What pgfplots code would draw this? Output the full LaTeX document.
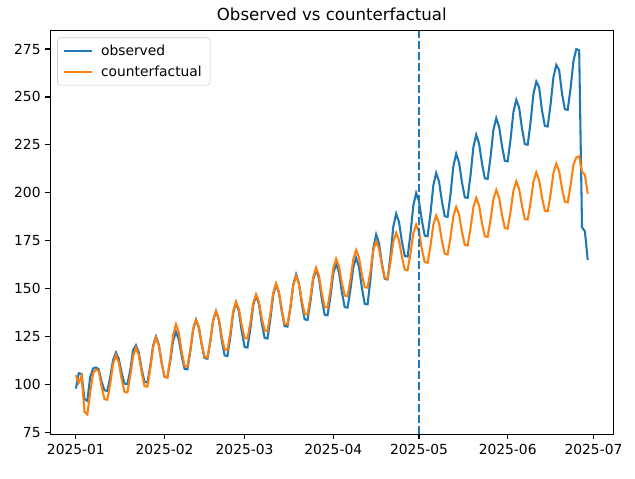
\documentclass[border=0pt]{standalone}
\usepackage{fontspec}
\setmainfont{DejaVu Sans}
\usepackage{pgfplots}
\usepackage{pgfplotstable}
\pgfplotsset{compat=1.18}
\definecolor{tabblue}{HTML}{1F77B4}
\definecolor{taborange}{HTML}{FF7F0E}
\definecolor{legframe}{HTML}{CCCCCC}

% day index from 2025-01-01, observed, counterfactual
\pgfplotstableread{
d obs cf
0 98 105
1 106 101
2 105.5 104.5
3 92.5 86
4 91.6 84.5
5 104 96
6 108.5 106
7 109 108
8 108 107
9 101.5 99
10 97.1 92.5
11 96.8 92.2
12 103.9 100.5
13 112.8 110.8
14 116.8 115.4
15 113.5 111.6
16 106.2 102.9
17 100.6 96.3
18 100.3 96
19 107.5 104.4
20 118 114.8
21 120.6 119.4
22 116.8 115.4
23 108.1 106.3
24 101.5 99.3
25 101.2 99
26 109.7 108.1
27 120.4 119.5
28 125.1 124.6
29 120.9 120.5
30 111.4 111.2
31 104.1 104.1
32 103.8 103.8
33 112.3 113.7
34 122.8 126.0
35 127.5 131.5
36 123.6 127.1
37 115 117.4
38 108.3 109.8
39 108 109.5
40 117.2 118.2
41 128.7 129.1
42 133.8 134
43 129.8 130.1
44 120.8 121.3
45 113.9 114.5
46 113.6 114.2
47 122.5 122.8
48 133.5 133.6
49 138.4 138.4
50 133.8 134.4
51 123.4 125.3
52 115.3 118.4
53 115 118.1
54 124.9 127.1
55 137.3 138.3
56 142.8 143.3
57 138.2 139.5
58 127.8 131.0
59 119.7 124.4
60 119.4 124.1
61 129.1 132.3
62 141.2 142.5
63 146.6 147.1
64 142.1 143.3
65 132.1 134.8
66 124.4 128.3
67 124.1 128
68 134.2 136.9
69 146.7 147.9
70 152.3 152.8
71 147.9 148.6
72 138.2 139.1
73 130.6 131.8
74 130.3 131.5
75 140 140.5
76 152.1 151.6
77 157.5 156.6
78 152.8 152.7
79 142.3 143.8
80 134.1 137.0
81 133.8 136.7
82 143.2 145.4
83 154.9 156.2
84 160.1 161
85 155.4 156.9
86 144.7 147.6
87 136.5 140.5
88 136.2 140.2
89 145.8 149.3
90 157.9 160.6
91 163.2 165.6
92 158.6 161.8
93 148.4 153.1
94 140.5 146.5
95 140.2 146.2
96 149.5 154.8
97 161.1 165.4
98 166.2 170.2
99 161.4 166.3
100 150.6 157.6
101 142.2 150.9
102 141.9 150.6
103 154.9 159.2
104 171.1 170.0
105 178.3 174.8
106 173.7 170.9
107 163.3 162.3
108 155.2 155.6
109 154.9 155.3
110 167.1 163.8
111 182.4 174.5
112 189.2 179.2
113 184.8 175.3
114 174.8 166.7
115 167.1 160.0
116 166.8 159.7
117 178.7 168.2
118 193.4 178.8
119 200 183.5
120 195.5 179.6
121 185.5 170.7
122 177.7 163.9
123 177.4 163.6
124 189.2 172.4
125 203.9 183.3
126 210.4 188.2
127 205.9 184.2
128 195.7 175.1
129 187.8 168.2
130 187.5 167.9
131 199.2 176.8
132 213.9 187.8
133 220.4 192.7
134 215.8 188.7
135 205.6 179.8
136 197.7 172.9
137 197.4 172.6
138 209.1 181.5
139 223.8 192.5
140 230.3 197.4
141 225.7 193.4
142 215.5 184.3
143 207.6 177.4
144 207.3 177.1
145 218.6 185.8
146 232.7 196.7
147 239 201.5
148 234.5 197.5
149 224.5 188.6
150 216.7 181.7
151 216.4 181.4
152 227.9 190.2
153 242.1 201.1
154 248.5 206
155 244.5 202.1
156 233.5 193.2
157 225.4 186.4
158 225.1 186.1
159 236.8 194.9
160 251.5 205.8
161 258 210.7
162 255 206.7
163 243 197.6
164 234.9 190.7
165 234.6 190.4
166 246.1 199.3
167 260.3 210.3
168 266.7 215.2
169 264 211.2
170 251.7 202.3
171 243.6 195.4
172 243.3 195.1
173 254.6 203.9
174 268.7 214.7
175 275 218.5
176 274.3 219
177 182 211
178 180 209.5
179 165 199.5
}\series

\begin{document}
\begin{tikzpicture}
\path[use as bounding box] (0,0) rectangle (458.9pt,345.5pt);
\begin{axis}[
  at={(36.35pt,31.8pt)}, anchor=south west,
  scale only axis, width=406.9pt, height=291.6pt,
  xmin=-8.95, xmax=187.95, ymin=74.3, ymax=284.6,
  xtick={0,31,59,90,120,151,181},
  xticklabels={2025-01,2025-02,2025-03,2025-04,2025-05,2025-06,2025-07},
  ytick={75,100,...,275},
  tick align=outside, tick pos=left,
  major tick length=3.5pt,
  every tick/.style={black, line width=0.8pt},
  axis line style={line width=0.8pt},
  tick label style={font=\fontsize{10}{12}\selectfont},
  /pgf/number format/assume math mode=true,
  title={Observed vs counterfactual},
  title style={font=\fontsize{12}{14}\selectfont, at={(0.5,1)}, anchor=base, yshift=1pt},
  legend cell align=left,
  legend style={at={(0,1)}, anchor=north west, xshift=5pt, yshift=-5pt,
    draw=legframe, rounded corners=2pt, fill=white, fill opacity=0.8, text opacity=1,
    font=\fontsize{10}{12}\selectfont, inner xsep=4pt, inner ysep=3pt, row sep=2pt,
    /tikz/every odd column/.append style={column sep=4pt}},
  legend image code/.code={\draw[#1] (0pt,0pt) -- (20pt,0pt);},
]
\addplot[tabblue, line width=1.5pt] table[x=d, y=obs] {\series};
\addlegendentry{observed}
\addplot[taborange, line width=1.5pt] table[x=d, y=cf] {\series};
\addlegendentry{counterfactual}
\addplot[tabblue, line width=1.5pt, dash pattern=on 5.55pt off 2.4pt, forget plot]
  coordinates {(120,74.3) (120,284.6)};
\end{axis}
\end{tikzpicture}
\end{document}
